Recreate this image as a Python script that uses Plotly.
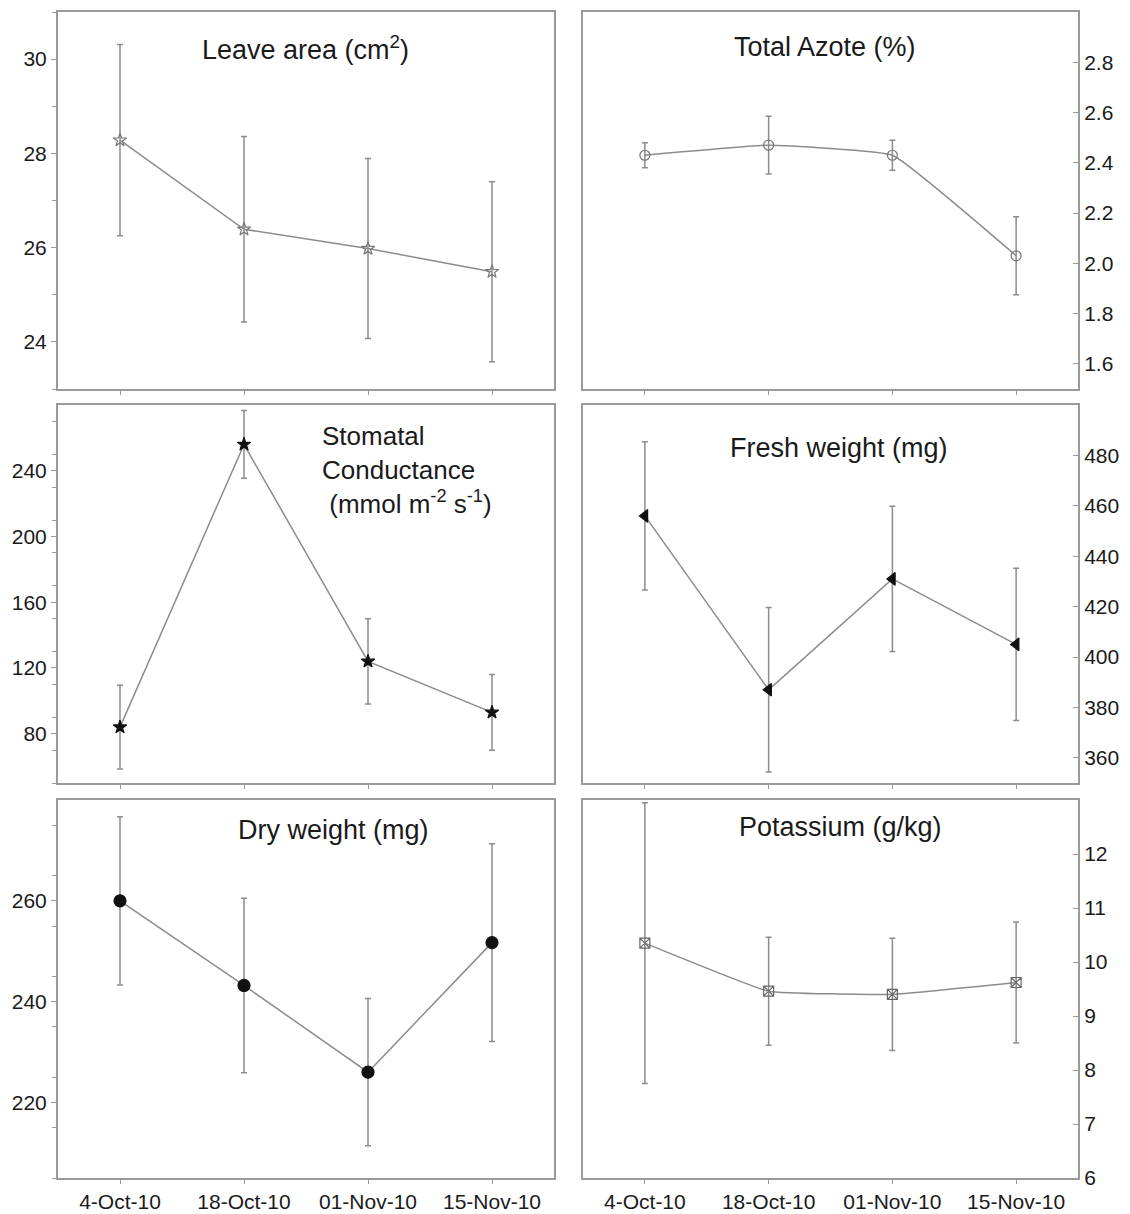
import plotly.graph_objects as go
from plotly.subplots import make_subplots

# ---------------- data ----------------
dates = ["4-Oct-10", "18-Oct-10", "01-Nov-10", "15-Nov-10"]
date_pos = [0, 1, 2, 3]

leaf_area = [28.28, 26.39, 25.98, 25.49]
leaf_area_err = [2.03, 1.97, 1.91, 1.91]

azote = [2.43, 2.47, 2.43, 2.03]
azote_err = [0.05, 0.115, 0.06, 0.155]

stomatal = [84, 256, 124, 93]
stomatal_err = [25.5, 20.6, 25.9, 23.0]

fresh = [456, 387, 431, 405]
fresh_err = [29.4, 32.6, 28.8, 30.2]

dry = [260, 243.2, 226, 251.7]
dry_err = [16.7, 17.3, 14.6, 19.6]

potassium = [10.35, 9.46, 9.40, 9.62]
potassium_err = [2.6, 1.0, 1.04, 1.12]

# ---------------- layout helpers ----------------
W, H, OFF = 1122, 1206, 8
def pxx(x):
    return (x - OFF) / W
def pxy(y):
    return 1 - (y - OFF) / H

FONT = "Liberation Sans, Arial, sans-serif"
GREY = "#8c8c8c"
FRAME = "#9a9a9a"
TXT = "#1a1a1a"

fig = make_subplots(rows=3, cols=2)

panels = [
    # (row, col, y, err, symbol, color, size, shape, yrange, tickvals, minor dtick)
    (1, 1, leaf_area, leaf_area_err, "star-open", "#777777", 10, "linear", [23, 31], [24, 26, 28, 30], 1),
    (1, 2, azote, azote_err, "circle-open", "#777777", 10, "spline", [1.5, 3.0], [1.6, 1.8, 2.0, 2.2, 2.4, 2.6, 2.8], None),
    (2, 1, stomatal, stomatal_err, "star", "#111111", 10, "linear", [50, 280], [80, 120, 160, 200, 240], 20),
    (2, 2, fresh, fresh_err, "triangle-left", "#111111", 11, "linear", [350, 500], [360, 380, 400, 420, 440, 460, 480], None),
    (3, 1, dry, dry_err, "circle", "#111111", 12, "linear", [205, 280], [220, 240, 260], 10),
    (3, 2, potassium, potassium_err, "square-x-open", "#666666", 10, "spline", [6, 13], [6, 7, 8, 9, 10, 11, 12], None),
]

xdom = {1: [pxx(58), pxx(554)], 2: [pxx(583), pxx(1078)]}
ydom = {1: [pxy(389), pxy(12)], 2: [pxy(783), pxy(405)], 3: [pxy(1178), pxy(800)]}

for (r, c, yv, ev, sym, mcol, msz, shape, yr, tv, mdt) in panels:
    fig.add_trace(
        go.Scatter(
            x=date_pos, y=yv, mode="lines+markers",
            line=dict(color=GREY, width=1.5, shape=shape, smoothing=0.3),
            marker=dict(symbol=sym, color=mcol, size=msz,
                        line=dict(color=mcol, width=1.2)),
            error_y=dict(type="data", array=ev, visible=True, color=GREY,
                         thickness=1.5, width=3),
            showlegend=False,
        ),
        row=r, col=c,
    )
    fig.update_xaxes(
        row=r, col=c, domain=xdom[c], range=[-0.5, 3.5],
        tickvals=date_pos, ticktext=dates, showticklabels=(r == 3),
        ticks="outside", ticklen=4, tickwidth=1, tickcolor=FRAME,
        showline=True, mirror=True, linecolor=FRAME, linewidth=2,
        showgrid=False, zeroline=False, automargin=False,
        tickfont=dict(family=FONT, size=21, color=TXT),
    )
    yopts = dict(
        domain=ydom[r], range=yr, tickvals=tv,
        ticks="outside" if c == 1 else "inside", ticklen=5, tickwidth=1, tickcolor=FRAME,
        showline=True, mirror=True, linecolor=FRAME, linewidth=2,
        showgrid=False, zeroline=False, automargin=False,
        side="left" if c == 1 else "right",
        tickfont=dict(family=FONT, size=21, color=TXT),
    )
    if c == 2 and r == 1:
        yopts["tickformat"] = ".1f"
    if mdt is not None:
        yopts["minor"] = dict(ticks="outside", ticklen=4, dtick=mdt,
                              tick0=yr[0], tickcolor=FRAME, showgrid=False)
    fig.update_yaxes(row=r, col=c, **yopts)

titles = [
    ("Leave area (cm<sup>2</sup>)", 305, 48, "center"),
    ("Total Azote (%)", 825, 47, "center"),
    ("Fresh weight (mg)", 839, 448, "center"),
    ("Dry weight (mg)", 333, 830, "center"),
    ("Potassium (g/kg)", 840, 827, "center"),
]
for txt, x, y, al in titles:
    fig.add_annotation(text=txt, x=pxx(x), y=pxy(y), xref="paper", yref="paper",
                       showarrow=False, xanchor=al, yanchor="middle",
                       font=dict(family=FONT, size=27, color=TXT))

fig.add_annotation(
    text="Stomatal<br>Conductance<br> (mmol m<sup>-2</sup> s<sup>-1</sup>)",
    x=pxx(320), y=pxy(470), xref="paper", yref="paper", showarrow=False,
    xanchor="left", yanchor="middle", align="left",
    font=dict(family=FONT, size=26, color=TXT),
)

fig.update_layout(
    width=W, height=H,
    margin=dict(l=0, r=0, t=0, b=0),
    paper_bgcolor="white", plot_bgcolor="white",
    showlegend=False,
)

fig.write_html("out.html")
